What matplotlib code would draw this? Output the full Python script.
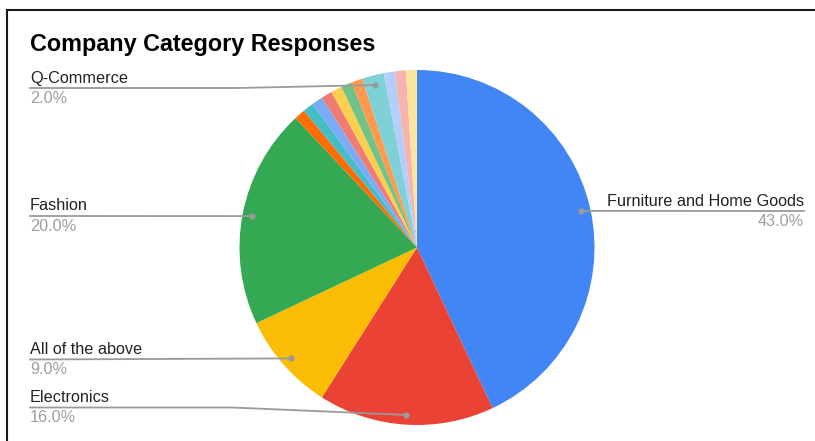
import matplotlib
matplotlib.use("Agg")
import matplotlib.pyplot as plt
from matplotlib.lines import Line2D
import numpy as np

plt.rcParams['font.family'] = ['Liberation Sans', 'DejaVu Sans']

# Response share per company category (percent), clockwise from 12 o'clock
categories = [
    "Furniture and Home Goods", "Electronics", "All of the above", "Fashion",
    "Other A", "Other B", "Other C", "Other D", "Other E", "Other F", "Other G",
    "Q-Commerce", "Other H", "Other I", "Other J",
]
shares = [43, 16, 9, 20, 1, 1, 1, 1, 1, 1, 1, 2, 1, 1, 1]
colors = [
    "#4285F4", "#EA4335", "#FBBC04", "#34A853", "#FF6D01", "#46BDC6",
    "#7BAAF7", "#F07B72", "#FCD04F", "#71C287", "#FF994D", "#7ED1D7",
    "#B3CEFB", "#F7B4AE", "#FDE49B",
]
labelled = ["Furniture and Home Goods", "Electronics", "All of the above",
            "Fashion", "Q-Commerce"]

W, H = 815, 441
fig = plt.figure(figsize=(W / 100, H / 100), dpi=100)
ax = fig.add_axes([0, 0, 1, 1])
ax.set_xlim(0, W)
ax.set_ylim(0, H)
ax.axis("off")

cx, cy_pix, R = 417, 247.5, 177.5
cy = H - cy_pix

wedges, _ = ax.pie(shares, colors=colors, startangle=90, counterclock=False,
                   center=(cx, cy), radius=R, frame=True,
                   wedgeprops=dict(linewidth=0, antialiased=True))
ax.set_xlim(0, W)
ax.set_ylim(0, H)
ax.axis("off")

# label layout: (label line y in pixels, side, bend x for sloped leaders)
layout = {
    "Furniture and Home Goods": (211, "right", None),
    "Fashion": (216, "left", None),
    "All of the above": (359.5, "left", None),
    "Electronics": (407.5, "left", 232),
    "Q-Commerce": (88, "left", 238),
}

name_col = "#222222"
pct_col = "#9E9E9E"
line_col = "#9A9A9A"
fs = 11.7

total = sum(shares)
for w, name, val in zip(wedges, categories, shares):
    if name not in labelled:
        continue
    mid = np.deg2rad((w.theta1 + w.theta2) / 2)
    dx = cx + 0.945 * R * np.cos(mid)
    dy = cy + 0.945 * R * np.sin(mid)
    ly_pix, side, bend = layout[name]
    ly = H - ly_pix
    pct = f"{100 * val / total:.1f}%"
    if side == "right":
        x_end = 804
        ax.add_line(Line2D([dx, x_end], [dy, ly], color=line_col, lw=1.3))
        ax.text(x_end, ly + 10, name, ha="right", va="center", fontsize=fs, color=name_col)
        ax.text(x_end, ly - 10.5, pct, ha="right", va="center", fontsize=fs, color=pct_col)
    else:
        x0 = 30
        if bend is None:
            xs, ys = [x0, dx], [ly, dy]
        else:
            xs, ys = [x0, bend, dx], [ly, ly, dy]
        ax.add_line(Line2D(xs, ys, color=line_col, lw=1.3))
        ax.text(x0, ly + 10, name, ha="left", va="center", fontsize=fs, color=name_col)
        ax.text(x0, ly - 10.5, pct, ha="left", va="center", fontsize=fs, color=pct_col)
    ax.plot([dx], [dy], marker="o", ms=4.5, color="#9A9A9A", mec="none", zorder=5)

ax.text(30, H - 44, "Company Category Responses", ha="left", va="center",
        fontsize=16.8, fontweight="bold", color="#000000")

# frame edges along the top and left
ax.add_line(Line2D([7, W], [H - 10, H - 10], color="#1a1a1a", lw=1.5))
ax.add_line(Line2D([7, 7], [H - 10, 0], color="#1a1a1a", lw=1.5))

fig.savefig("out.png", dpi=100)
